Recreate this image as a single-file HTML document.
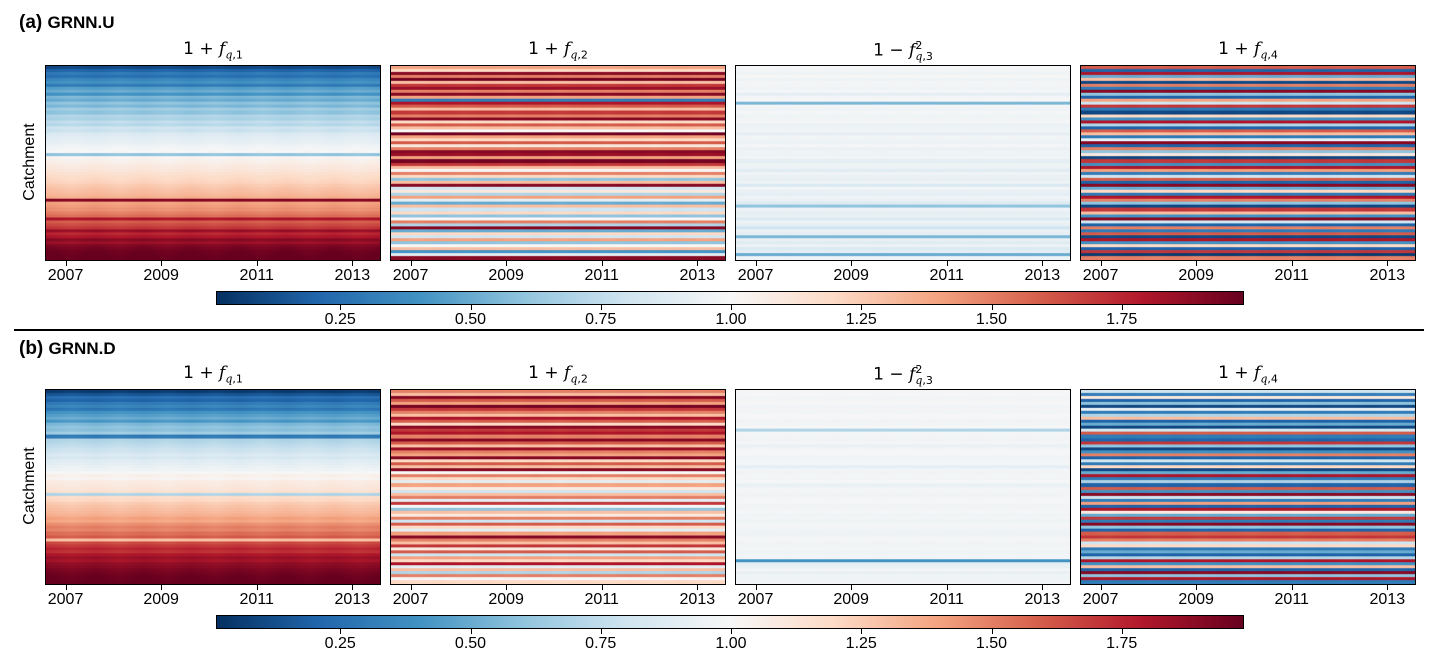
<!DOCTYPE html>
<html><head><meta charset="utf-8">
<style>
body{margin:0;width:1439px;height:664px;background:#fff;font-family:"Liberation Sans","DejaVu Sans",sans-serif;position:relative;overflow:hidden}
.abs{position:absolute}
.ttl{position:absolute;font-size:17px;width:336px;text-align:center;font-family:"DejaVu Sans","Liberation Sans",sans-serif}
.ttl i{font-family:"DejaVu Serif","Liberation Serif",serif}
.ttl sub,.ttl sup{font-size:11px}
.tick{position:absolute;font-size:16px;width:60px;text-align:center}
.tk{position:absolute;width:1px;height:5px;background:#000}
canvas{position:absolute;border:1px solid #000;box-sizing:border-box}
.lab{position:absolute;font-size:19px;font-weight:bold}
.lab span{font-size:17px}
</style></head><body>
<div id="root"></div>
<script>
const years=[2007,2009,2011,2013];
const cbTicks=[0.25,0.5,0.75,1.0,1.25,1.5,1.75];
const season=[0.1,0.08,0.04,0,-0.04,-0.08,-0.1,-0.08,-0.04,0,0.04,0.08];
const seasonAmp=[0.12,0.06,0.02,0.08,0.12,0.06,0.01,0.06];
const rowsA1=[0.1,0.2,0.3,0.25,0.35,0.4,0.3,0.45,0.5,0.4,0.55,0.5,0.6,0.55,0.65,0.6,0.7,0.68,0.75,0.72,0.8,0.78,0.85,0.88,0.9,0.92,0.95,0.97,1.0,0.6,1.02,1.05,1.08,1.1,1.12,1.15,1.18,1.2,1.22,1.25,1.28,1.3,1.32,1.35,1.9,1.4,1.42,1.45,1.5,1.55,1.8,1.6,1.65,1.7,1.85,1.75,1.8,1.9,1.85,1.92,1.95,1.97,1.98,1.99];
const rowsA2=[1.4,1.2,1.9,1.5,1.95,1.3,1.7,1.85,1.5,1.9,1.4,0.3,1.8,1.6,1.3,1.7,1.5,1.9,1.2,1.6,1.3,1.0,1.95,1.4,1.2,1.6,1.1,1.5,1.9,1.85,1.4,1.95,1.7,1.3,1.0,1.5,1.2,0.6,1.3,1.9,0.8,1.1,0.7,1.4,0.9,0.5,1.3,0.8,1.2,0.6,1.0,1.5,0.7,1.9,0.5,1.2,0.8,1.4,0.6,1.0,1.3,0.4,0.9,1.9];
const rowsA3=[0.98,0.97,0.96,0.99,0.95,0.98,0.97,0.96,0.98,0.9,0.97,0.99,0.55,0.97,0.96,0.98,0.95,0.97,0.98,0.93,0.95,0.96,0.9,0.97,0.95,0.94,0.98,0.93,0.96,0.95,0.97,0.9,0.95,0.94,0.88,0.96,0.93,0.92,0.95,0.85,0.97,0.92,0.9,0.95,0.93,0.86,0.6,0.94,0.9,0.93,0.85,0.95,0.91,0.8,0.93,0.9,0.55,0.92,0.88,0.94,0.85,0.9,0.5,0.95];
const rowsA4=[1.6,0.2,1.8,0.5,1.3,0.1,1.5,0.3,1.9,0.6,0.2,1.4,0.8,1.7,0.3,0.1,1.2,0.4,1.8,0.7,0.2,1.6,1.3,0.3,0.9,1.9,0.2,1.5,0.6,1.1,0.1,1.7,0.4,1.8,1.4,0.3,0.8,1.6,0.2,1.9,0.5,1.2,0.3,1.8,1.5,0.6,0.1,1.7,1.3,0.4,1.9,0.8,0.2,1.5,0.3,1.6,0.1,1.8,0.4,1.2,0.2,1.7,0.05,1.5];
const rowsB1=[0.05,0.15,0.25,0.2,0.3,0.35,0.28,0.4,0.45,0.5,0.42,0.55,0.6,0.58,0.65,0.3,0.7,0.72,0.75,0.78,0.8,0.85,0.83,0.88,0.9,0.93,0.95,1.0,1.05,1.02,1.08,1.1,1.12,1.15,0.7,1.18,1.2,1.25,1.28,1.3,1.32,1.35,1.4,1.38,1.45,1.5,1.48,1.55,1.6,1.3,1.65,1.7,1.75,1.72,1.8,1.85,1.82,1.88,1.9,1.93,1.95,1.97,1.98,1.99];
const rowsB2=[1.5,1.3,1.9,1.6,1.4,1.95,1.7,1.5,1.3,1.8,1.6,1.2,1.9,1.7,1.8,1.5,1.9,1.6,1.3,1.85,1.5,1.4,1.9,1.2,1.6,1.3,1.9,1.0,1.5,1.2,0.9,1.4,1.1,0.8,1.3,1.5,0.9,1.7,1.0,0.6,1.3,1.1,1.5,0.8,1.6,1.2,0.9,1.4,1.9,1.5,1.3,1.7,1.1,1.6,0.8,1.4,1.2,1.8,0.9,1.3,0.7,1.5,1.0,1.2];
const rowsB3=[0.98,0.99,0.97,0.98,0.99,0.96,0.98,0.97,0.99,0.98,0.96,0.97,0.99,0.7,0.98,0.97,0.96,0.98,0.93,0.97,0.99,0.98,0.96,0.97,0.98,0.9,0.97,0.96,0.98,0.97,0.99,0.93,0.97,0.98,0.96,0.97,0.99,0.98,0.96,0.97,0.98,0.96,0.97,0.95,0.98,0.97,0.96,0.94,0.97,0.98,0.96,0.97,0.98,0.95,0.97,0.96,0.4,0.9,0.93,0.97,0.92,0.96,0.95,0.97];
const rowsB4=[0.8,0.3,1.1,0.2,0.6,0.1,0.9,0.3,0.7,1.3,0.2,0.5,0.1,0.8,1.6,0.3,0.2,1.7,0.6,0.1,0.4,1.5,0.2,0.8,0.3,1.2,0.1,0.5,1.8,0.3,0.7,0.2,1.6,0.4,1.9,0.8,0.3,1.4,0.2,1.8,1.1,0.5,1.7,0.3,1.9,0.6,0.2,1.6,1.7,1.5,0.8,1.2,0.3,0.5,0.2,0.7,1.8,0.4,1.3,0.2,1.9,0.6,1.8,0.3];
const panelRows=[rowsA1,rowsA2,rowsA3,rowsA4,rowsB1,rowsB2,rowsB3,rowsB4];

const root=document.getElementById('root');
const stops=[[5,48,97],[33,102,172],[67,147,195],[146,197,222],[209,229,240],[247,247,247],[253,219,199],[244,165,130],[214,96,77],[178,24,43],[103,0,31]];
function cmap(v){let t=(v-0.01)/(1.985-0.01);t=Math.max(0,Math.min(1,t))*10;const i=Math.min(9,Math.floor(t)),f=t-i;const a=stops[i],b=stops[i+1];return `rgb(${Math.round(a[0]+(b[0]-a[0])*f)},${Math.round(a[1]+(b[1]-a[1])*f)},${Math.round(a[2]+(b[2]-a[2])*f)})`;}
const PX=[45,390,735,1080],PW=336,PH=196,PY=[65,389];
const yr0=2006.57,yr1=2013.6;
function xYear(left,y){return left+(y-yr0)/(yr1-yr0)*PW;}
function xCb(v){return 731+(v-1)*521;}
function add(tag,cls,name,style,html){const e=document.createElement(tag);if(cls)e.className=cls;


if(style)e.style.cssText=style;if(html!==undefined)e.innerHTML=html;root.appendChild(e);return e;}
const titles=['1 + <i>f</i><sub><i>q</i>,1</sub>','1 + <i>f</i><sub><i>q</i>,2</sub>','1 − <i>f</i><sup>2</sup><sub style="margin-left:-7px"><i>q</i>,3</sub>','1 + <i>f</i><sub><i>q</i>,4</sub>'];
const nCols=Math.round((yr1-yr0)*12);
for(let r=0;r<2;r++){
  const top=PY[r];
  for(let p=0;p<4;p++){
    const idx=r*4+p,rows=panelRows[idx];
    add('div','ttl','panel-title','left:'+PX[p]+'px;top:'+(top-26)+'px',titles[p]);
    const c=add('canvas','', 'heatmap-panel','left:'+PX[p]+'px;top:'+top+'px;width:'+PW+'px;height:'+PH+'px');
    c.width=PW;c.height=PH;const ctx=c.getContext('2d');
    const rh=PH/rows.length,cw=PW/nCols;
    for(let i=0;i<rows.length;i++)for(let j=0;j<nCols;j++){
      const m=(Math.floor((yr0-2006)*12)+j)%12;
      ctx.fillStyle=cmap(rows[i]+season[m]*seasonAmp[idx]*(rows[i]>1?1:-1)*-1);
      ctx.fillRect(Math.floor(j*cw),Math.floor(i*rh),Math.ceil(cw)+1,Math.ceil(rh)+1);
    }
    years.forEach(y=>{const x=xYear(PX[p],y);
      add('div','tk','x-tick','left:'+x+'px;top:'+(top+PH)+'px');
      add('div','tick','x-tick-label','left:'+(x-30)+'px;top:'+(top+PH+6)+'px',String(y));});
  }
  add('div','abs','y-axis-title','left:-10px;top:'+(top+88)+'px;width:80px;text-align:center;font-size:16px;transform:rotate(-90deg)','Catchment');
  const cbt=top+226;
  const g=stops.map((s,i)=>`rgb(${s})  ${i*10}%`).join(',');
  add('div','abs','colorbar','left:216px;top:'+cbt+'px;width:1028px;height:14px;border:1px solid #000;box-sizing:border-box;background:linear-gradient(to right,'+g+')');
  cbTicks.forEach(v=>{const x=xCb(v);
    add('div','tk','colorbar-tick','left:'+x+'px;top:'+(cbt+14)+'px');
    add('div','tick','colorbar-tick-label','left:'+(x-30)+'px;top:'+(cbt+20)+'px',v.toFixed(2));});
}
add('div','lab','panel-label-a','left:19px;top:12px','(a) <span>GRNN.U</span>');
add('div','lab','panel-label-b','left:19px;top:338px','(b) <span>GRNN.D</span>');
add('div','abs','separator-line','left:14px;top:329px;width:1410px;height:2px;background:#000');
</script>
</body></html>
